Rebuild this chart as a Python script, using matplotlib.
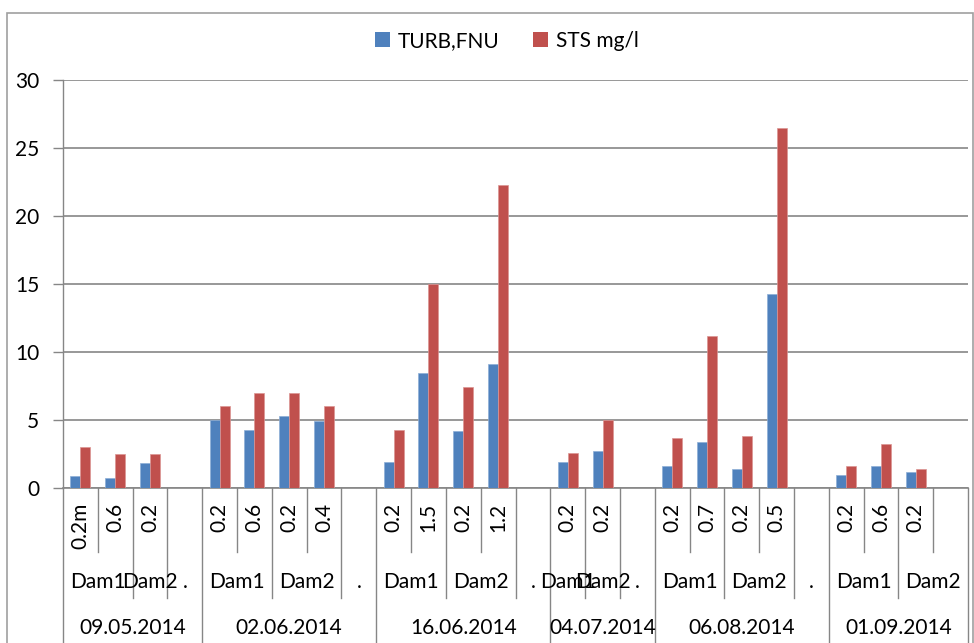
import numpy as np
import matplotlib
matplotlib.use("Agg")
import matplotlib.pyplot as plt
from matplotlib.patches import Rectangle, Patch
import matplotlib.transforms as mtransforms

plt.rcParams['font.family'] = ['Lato', 'DejaVu Sans']

# ---- data ----
dates = ["09.05.2014"] * 4 + ["02.06.2014"] * 5 + ["16.06.2014"] * 5 + \
        ["04.07.2014"] * 3 + ["06.08.2014"] * 5 + ["01.09.2014"] * 4
sites = ["Dam1", "Dam1", "Dam2", ".",
         "Dam1", "Dam1", "Dam2", "Dam2", ".",
         "Dam1", "Dam1", "Dam2", "Dam2", ".",
         "Dam1", "Dam2", ".",
         "Dam1", "Dam1", "Dam2", "Dam2", ".",
         "Dam1", "Dam1", "Dam2", "Dam2"]
depths = ["0.2m", "0.6", "0.2", "",
          "0.2", "0.6", "0.2", "0.4", "",
          "0.2", "1.5", "0.2", "1.2", "",
          "0.2", "0.2", "",
          "0.2", "0.7", "0.2", "0.5", "",
          "0.2", "0.6", "0.2", ""]
nan = np.nan
turb = [0.85, 0.75, 1.85, nan,
        5.0, 4.3, 5.3, 4.9, nan,
        1.9, 8.45, 4.2, 9.1, nan,
        1.9, 2.7, nan,
        1.6, 3.4, 1.4, 14.3, nan,
        0.95, 1.6, 1.15, nan]
sts = [3.0, 2.5, 2.5, nan,
       6.0, 7.0, 7.0, 6.0, nan,
       4.3, 15.0, 7.4, 22.3, nan,
       2.6, 5.0, nan,
       3.7, 11.2, 3.8, 26.45, nan,
       1.6, 3.2, 1.4, nan]
series_names = ["TURB,FNU", "STS mg/l"]
yticks = [0, 5, 10, 15, 20, 25, 30]

BLUE = "#4F81BD"
RED = "#C0504D"
GRID = "#868686"
FS = 15

W, H = 974, 643
fig = plt.figure(figsize=(W / 100, H / 100), dpi=100)
ax_l, ax_r, ax_t, ax_b = 63, 968, 80, 488
ax = fig.add_axes([ax_l / W, 1 - ax_b / H, (ax_r - ax_l) / W, (ax_b - ax_t) / H])

n = len(depths)
x = np.arange(n) + 0.5
bw = 10 / 34.8
ax.bar(x - bw / 2, turb, width=bw, color=BLUE, edgecolor="#8DAED6", linewidth=0.5, zorder=3)
ax.bar(x + bw / 2, sts, width=bw, color=RED, edgecolor="#DC9593", linewidth=0.5, zorder=3)

ax.set_xlim(0, n)
ax.set_ylim(0, 30)
ax.set_yticks(yticks)
ax.set_yticklabels([str(v) for v in yticks], fontsize=FS)
ax.tick_params(axis='y', length=7, width=1, color=GRID, pad=10)
ax.set_xticks([])
ax.yaxis.grid(True, color=GRID, linewidth=1.2, zorder=0)
for s in ["top", "right"]:
    ax.spines[s].set_visible(False)
ax.spines["left"].set_color(GRID)
ax.spines["bottom"].set_color(GRID)
ax.spines["left"].set_linewidth(1)
ax.spines["bottom"].set_linewidth(1.2)

trans = mtransforms.blended_transform_factory(ax.transData, ax.transAxes)
ah = ax_b - ax_t
def yfrac(py):
    return -(py - ax_b) / ah

y_leaf = yfrac(552)
y_lvl2 = yfrac(598)
y_bot = yfrac(660)

# separators
for b in range(n + 1):
    if b == 0 or b == n or dates[b - 1] != dates[b]:
        yb = y_bot
    elif sites[b - 1] != sites[b]:
        yb = y_lvl2
    else:
        yb = y_leaf
    ax.plot([b, b], [0, yb], transform=trans, color=GRID, lw=1, clip_on=False, zorder=1)

# leaf labels
for i, d in enumerate(depths):
    if d:
        ax.text(i + 0.5, yfrac(503), d, transform=trans, rotation=90,
                ha='center', va='top', fontsize=FS, clip_on=False)

def runs(labels, keys):
    out = []
    start = 0
    for i in range(1, len(labels) + 1):
        if i == len(labels) or keys[i] != keys[start]:
            out.append((start, i, labels[start]))
            start = i
    return out

site_keys = list(zip(dates, sites))
for s0, s1, lab in runs(sites, site_keys):
    ax.text((s0 + s1) / 2, yfrac(582), lab, transform=trans, ha='center',
            va='center', fontsize=FS, clip_on=False)
for s0, s1, lab in runs(dates, dates):
    ax.text((s0 + s1) / 2, yfrac(628), lab, transform=trans, ha='center',
            va='center', fontsize=FS, clip_on=False)

# legend
handles = [Patch(facecolor=BLUE), Patch(facecolor=RED)]
fig.legend(handles, series_names, loc='center', bbox_to_anchor=(507 / W, 1 - 41 / H),
           ncol=2, frameon=False, fontsize=FS, handlelength=0.7, handleheight=0.7,
           handletextpad=0.4, columnspacing=1.6)

# chart border
fig.patches.append(Rectangle((7 / W, -0.2), (973 - 7) / W, 1.2 - 13 / H,
                             transform=fig.transFigure, fill=False,
                             edgecolor="#A0A0A0", linewidth=1.2))

fig.savefig("out.png", dpi=100)
